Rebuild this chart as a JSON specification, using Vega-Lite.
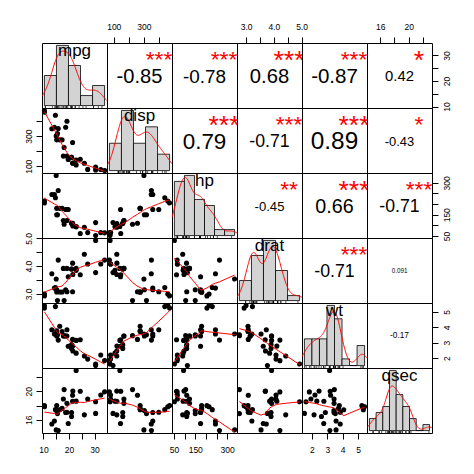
{
  "$schema": "https://vega.github.io/schema/vega-lite/v6.json",
  "description": "Correlation chart of mtcars: mpg, disp, hp, drat, wt, qsec.",
  "padding": {"left": 23, "top": 21, "right": 5, "bottom": 5},
  "columns": 6,
  "spacing": 0,
  "bounds": "flush",
  "datasets": {
    "cars": [
      {"mpg": 21.0, "disp": 160, "hp": 110, "drat": 3.90, "wt": 2.620, "qsec": 16.46},
      {"mpg": 21.0, "disp": 160, "hp": 110, "drat": 3.90, "wt": 2.875, "qsec": 17.02},
      {"mpg": 22.8, "disp": 108, "hp": 93, "drat": 3.85, "wt": 2.320, "qsec": 18.61},
      {"mpg": 21.4, "disp": 258, "hp": 110, "drat": 3.08, "wt": 3.215, "qsec": 19.44},
      {"mpg": 18.7, "disp": 360, "hp": 175, "drat": 3.15, "wt": 3.440, "qsec": 17.02},
      {"mpg": 18.1, "disp": 225, "hp": 105, "drat": 2.76, "wt": 3.460, "qsec": 20.22},
      {"mpg": 14.3, "disp": 360, "hp": 245, "drat": 3.21, "wt": 3.570, "qsec": 15.84},
      {"mpg": 24.4, "disp": 146.7, "hp": 62, "drat": 3.69, "wt": 3.190, "qsec": 20.00},
      {"mpg": 22.8, "disp": 140.8, "hp": 95, "drat": 3.92, "wt": 3.150, "qsec": 22.90},
      {"mpg": 19.2, "disp": 167.6, "hp": 123, "drat": 3.92, "wt": 3.440, "qsec": 18.30},
      {"mpg": 17.8, "disp": 167.6, "hp": 123, "drat": 3.92, "wt": 3.440, "qsec": 18.90},
      {"mpg": 16.4, "disp": 275.8, "hp": 180, "drat": 3.07, "wt": 4.070, "qsec": 17.40},
      {"mpg": 17.3, "disp": 275.8, "hp": 180, "drat": 3.07, "wt": 3.730, "qsec": 17.60},
      {"mpg": 15.2, "disp": 275.8, "hp": 180, "drat": 3.07, "wt": 3.780, "qsec": 18.00},
      {"mpg": 10.4, "disp": 472, "hp": 205, "drat": 2.93, "wt": 5.250, "qsec": 17.98},
      {"mpg": 10.4, "disp": 460, "hp": 215, "drat": 3.00, "wt": 5.424, "qsec": 17.82},
      {"mpg": 14.7, "disp": 440, "hp": 230, "drat": 3.23, "wt": 5.345, "qsec": 17.42},
      {"mpg": 32.4, "disp": 78.7, "hp": 66, "drat": 4.08, "wt": 2.200, "qsec": 19.47},
      {"mpg": 30.4, "disp": 75.7, "hp": 52, "drat": 4.93, "wt": 1.615, "qsec": 18.52},
      {"mpg": 33.9, "disp": 71.1, "hp": 65, "drat": 4.22, "wt": 1.835, "qsec": 19.90},
      {"mpg": 21.5, "disp": 120.1, "hp": 97, "drat": 3.70, "wt": 2.465, "qsec": 20.01},
      {"mpg": 15.5, "disp": 318, "hp": 150, "drat": 2.76, "wt": 3.520, "qsec": 16.87},
      {"mpg": 15.2, "disp": 304, "hp": 150, "drat": 3.15, "wt": 3.435, "qsec": 17.30},
      {"mpg": 13.3, "disp": 350, "hp": 245, "drat": 3.73, "wt": 3.840, "qsec": 15.41},
      {"mpg": 19.2, "disp": 400, "hp": 175, "drat": 3.08, "wt": 3.845, "qsec": 17.05},
      {"mpg": 27.3, "disp": 79, "hp": 66, "drat": 4.08, "wt": 1.935, "qsec": 18.90},
      {"mpg": 26.0, "disp": 120.3, "hp": 91, "drat": 4.43, "wt": 2.140, "qsec": 16.70},
      {"mpg": 30.4, "disp": 95.1, "hp": 113, "drat": 3.77, "wt": 1.513, "qsec": 16.90},
      {"mpg": 15.8, "disp": 351, "hp": 264, "drat": 4.22, "wt": 3.170, "qsec": 14.50},
      {"mpg": 19.7, "disp": 145, "hp": 175, "drat": 3.62, "wt": 2.770, "qsec": 15.50},
      {"mpg": 15.0, "disp": 301, "hp": 335, "drat": 3.54, "wt": 3.570, "qsec": 14.60},
      {"mpg": 21.4, "disp": 121, "hp": 109, "drat": 4.11, "wt": 2.780, "qsec": 18.60}
    ],
    "cor": [
      {"pair": "mpg-disp", "r": "-0.85", "stars": "***"},
      {"pair": "mpg-hp", "r": "-0.78", "stars": "***"},
      {"pair": "mpg-drat", "r": "0.68", "stars": "***"},
      {"pair": "mpg-wt", "r": "-0.87", "stars": "***"},
      {"pair": "mpg-qsec", "r": "0.42", "stars": "*"},
      {"pair": "disp-hp", "r": "0.79", "stars": "***"},
      {"pair": "disp-drat", "r": "-0.71", "stars": "***"},
      {"pair": "disp-wt", "r": "0.89", "stars": "***"},
      {"pair": "disp-qsec", "r": "-0.43", "stars": "*"},
      {"pair": "hp-drat", "r": "-0.45", "stars": "**"},
      {"pair": "hp-wt", "r": "0.66", "stars": "***"},
      {"pair": "hp-qsec", "r": "-0.71", "stars": "***"},
      {"pair": "drat-wt", "r": "-0.71", "stars": "***"},
      {"pair": "drat-qsec", "r": "0.091", "stars": ""},
      {"pair": "wt-qsec", "r": "-0.17", "stars": ""}
    ],
    "hist": [
      {"v": "mpg", "lo": 10, "hi": 15, "d": 0.0375},
      {"v": "mpg", "lo": 15, "hi": 20, "d": 0.075},
      {"v": "mpg", "lo": 20, "hi": 25, "d": 0.05},
      {"v": "mpg", "lo": 25, "hi": 30, "d": 0.0125},
      {"v": "mpg", "lo": 30, "hi": 35, "d": 0.025},
      {"v": "disp", "lo": 0, "hi": 100, "d": 0.0015625},
      {"v": "disp", "lo": 100, "hi": 200, "d": 0.0034375},
      {"v": "disp", "lo": 200, "hi": 300, "d": 0.0015625},
      {"v": "disp", "lo": 300, "hi": 400, "d": 0.0025},
      {"v": "disp", "lo": 400, "hi": 500, "d": 0.0009375},
      {"v": "hp", "lo": 50, "hi": 100, "d": 0.005625},
      {"v": "hp", "lo": 100, "hi": 150, "d": 0.00625},
      {"v": "hp", "lo": 150, "hi": 200, "d": 0.00375},
      {"v": "hp", "lo": 200, "hi": 250, "d": 0.003125},
      {"v": "hp", "lo": 250, "hi": 300, "d": 0.000625},
      {"v": "hp", "lo": 300, "hi": 350, "d": 0.000625},
      {"v": "drat", "lo": 2.5, "hi": 3.0, "d": 0.25},
      {"v": "drat", "lo": 3.0, "hi": 3.5, "d": 0.5625},
      {"v": "drat", "lo": 3.5, "hi": 4.0, "d": 0.75},
      {"v": "drat", "lo": 4.0, "hi": 4.5, "d": 0.375},
      {"v": "drat", "lo": 4.5, "hi": 5.0, "d": 0.0625},
      {"v": "wt", "lo": 1.5, "hi": 2.0, "d": 0.25},
      {"v": "wt", "lo": 2.0, "hi": 2.5, "d": 0.25},
      {"v": "wt", "lo": 2.5, "hi": 3.0, "d": 0.25},
      {"v": "wt", "lo": 3.0, "hi": 3.5, "d": 0.5625},
      {"v": "wt", "lo": 3.5, "hi": 4.0, "d": 0.4375},
      {"v": "wt", "lo": 4.0, "hi": 4.5, "d": 0.0625},
      {"v": "wt", "lo": 4.5, "hi": 5.0, "d": 0},
      {"v": "wt", "lo": 5.0, "hi": 5.5, "d": 0.1875},
      {"v": "qsec", "lo": 14, "hi": 15, "d": 0.0625},
      {"v": "qsec", "lo": 15, "hi": 16, "d": 0.09375},
      {"v": "qsec", "lo": 16, "hi": 17, "d": 0.125},
      {"v": "qsec", "lo": 17, "hi": 18, "d": 0.3125},
      {"v": "qsec", "lo": 18, "hi": 19, "d": 0.1875},
      {"v": "qsec", "lo": 19, "hi": 20, "d": 0.125},
      {"v": "qsec", "lo": 20, "hi": 21, "d": 0.0625},
      {"v": "qsec", "lo": 21, "hi": 22, "d": 0},
      {"v": "qsec", "lo": 22, "hi": 23, "d": 0.03125}
    ]
  },
  "concat": [
    {
      "width": 65, "height": 65,
      "layer": [
        {"data": {"name": "hist"}, "transform": [{"filter": "datum.v == 'mpg'"}],
         "mark": {"type": "rect", "fill": "#D3D3D3", "stroke": "black", "strokeWidth": 0.8, "clip": true},
         "encoding": {"x": {"field": "lo", "type": "quantitative", "scale": {"domain": [9, 36], "nice": false, "zero": false}, "axis": null},
                      "x2": {"field": "hi"},
                      "y": {"field": "d", "type": "quantitative", "scale": {"domain": [-0.003, 0.078], "nice": false, "zero": false}, "axis": null},
                      "y2": {"datum": 0}}},
        {"data": {"name": "cars"}, "transform": [{"density": "mpg", "bandwidth": 2.477, "extent": [9, 36], "steps": 200}],
         "mark": {"type": "line", "color": "red", "strokeWidth": 1, "clip": true},
         "encoding": {"x": {"field": "value", "type": "quantitative", "axis": null}, "y": {"field": "density", "type": "quantitative", "axis": null}}},
        {"data": {"name": "cars"},
         "mark": {"type": "rule", "color": "black", "strokeWidth": 0.7},
         "encoding": {"x": {"field": "mpg", "type": "quantitative", "axis": null}, "y": {"datum": -0.003, "axis": null}, "y2": {"datum": -0.00057}}},
        {"data": {"values": [{"label": "mpg"}]},
         "mark": {"type": "text", "font": "Liberation Sans", "fontSize": 17, "color": "black", "baseline": "alphabetic", "dy": -19.5},
         "encoding": {"text": {"field": "label", "type": "nominal"}}}
      ]
    },
    {
      "width": 65, "height": 65,
      "layer": [
        {"data": {"name": "cars"}, "mark": {"type": "point", "opacity": 0},
         "encoding": {"x": {"field": "disp", "type": "quantitative", "scale": {"domain": [55.064, 488.036], "nice": false, "zero": false},
                            "axis": {"orient": "top", "values": [100, 200, 300, 400], "labelExpr": "datum.value == 100 || datum.value == 300 ? datum.label : ''", "title": null, "labelPadding": 6}},
                      "y": {"field": "mpg", "type": "quantitative", "scale": {"domain": [9.46, 34.84], "nice": false, "zero": false}, "axis": null}}},
        {"data": {"name": "cor"}, "transform": [{"filter": "datum.pair == 'mpg-disp'"}],
         "mark": {"type": "text", "font": "Liberation Sans", "fontSize": 20.1, "color": "black", "baseline": "middle", "dy": 1, "clip": true},
         "encoding": {"text": {"field": "r", "type": "nominal"}}},
        {"data": {"name": "cor"}, "transform": [{"filter": "datum.pair == 'mpg-disp'"}],
         "mark": {"type": "text", "font": "Liberation Sans", "fontSize": 22.8, "color": "red", "baseline": "middle", "dx": 19.5, "dy": -16, "clip": true},
         "encoding": {"text": {"field": "stars", "type": "nominal"}}}
      ]
    },
    {
      "width": 65, "height": 65,
      "layer": [
        {"data": {"name": "cars"}, "mark": {"type": "point", "opacity": 0},
         "encoding": {"x": {"field": "hp", "type": "quantitative", "axis": null}, "y": {"field": "mpg", "type": "quantitative", "axis": null}}},
        {"data": {"name": "cor"}, "transform": [{"filter": "datum.pair == 'mpg-hp'"}],
         "mark": {"type": "text", "font": "Liberation Sans", "fontSize": 18.9, "color": "black", "baseline": "middle", "dy": 1, "clip": true},
         "encoding": {"text": {"field": "r", "type": "nominal"}}},
        {"data": {"name": "cor"}, "transform": [{"filter": "datum.pair == 'mpg-hp'"}],
         "mark": {"type": "text", "font": "Liberation Sans", "fontSize": 22.8, "color": "red", "baseline": "middle", "dx": 19.5, "dy": -16, "clip": true},
         "encoding": {"text": {"field": "stars", "type": "nominal"}}}
      ]
    },
    {
      "width": 65, "height": 65,
      "layer": [
        {"data": {"name": "cars"}, "mark": {"type": "point", "opacity": 0},
         "encoding": {"x": {"field": "drat", "type": "quantitative", "scale": {"domain": [2.6732, 5.0168], "nice": false, "zero": false},
                            "axis": {"orient": "top", "values": [3, 3.5, 4, 4.5, 5], "format": ".1f", "labelExpr": "datum.value % 1 == 0 ? datum.label : ''", "title": null, "labelPadding": 6}},
                      "y": {"field": "mpg", "type": "quantitative", "scale": {"domain": [9.46, 34.84], "nice": false, "zero": false}, "axis": null}}},
        {"data": {"name": "cor"}, "transform": [{"filter": "datum.pair == 'mpg-drat'"}],
         "mark": {"type": "text", "font": "Liberation Sans", "fontSize": 20.2, "color": "black", "baseline": "middle", "dy": 1, "clip": true},
         "encoding": {"text": {"field": "r", "type": "nominal"}}},
        {"data": {"name": "cor"}, "transform": [{"filter": "datum.pair == 'mpg-drat'"}],
         "mark": {"type": "text", "font": "Liberation Sans", "fontSize": 26.7, "color": "red", "baseline": "middle", "dx": 19.5, "dy": -15, "clip": true},
         "encoding": {"text": {"field": "stars", "type": "nominal"}}}
      ]
    },
    {
      "width": 65, "height": 65,
      "layer": [
        {"data": {"name": "cars"}, "mark": {"type": "point", "opacity": 0},
         "encoding": {"x": {"field": "wt", "type": "quantitative", "axis": null}, "y": {"field": "mpg", "type": "quantitative", "axis": null}}},
        {"data": {"name": "cor"}, "transform": [{"filter": "datum.pair == 'mpg-wt'"}],
         "mark": {"type": "text", "font": "Liberation Sans", "fontSize": 20.5, "color": "black", "baseline": "middle", "dy": 1, "clip": true},
         "encoding": {"text": {"field": "r", "type": "nominal"}}},
        {"data": {"name": "cor"}, "transform": [{"filter": "datum.pair == 'mpg-wt'"}],
         "mark": {"type": "text", "font": "Liberation Sans", "fontSize": 22.8, "color": "red", "baseline": "middle", "dx": 19.5, "dy": -16, "clip": true},
         "encoding": {"text": {"field": "stars", "type": "nominal"}}}
      ]
    },
    {
      "width": 65, "height": 65,
      "layer": [
        {"data": {"name": "cars"}, "mark": {"type": "point", "opacity": 0},
         "encoding": {"x": {"field": "qsec", "type": "quantitative", "scale": {"domain": [14.164, 23.236], "nice": false, "zero": false},
                            "axis": {"orient": "top", "values": [16, 18, 20, 22], "labelExpr": "datum.value == 16 || datum.value == 20 ? datum.label : ''", "title": null, "labelPadding": 6}},
                      "y": {"field": "mpg", "type": "quantitative", "scale": {"domain": [9.46, 34.84], "nice": false, "zero": false},
                            "axis": {"orient": "right", "values": [10, 15, 20, 25, 30], "labelExpr": "datum.value % 10 == 0 ? datum.label : ''", "title": null, "labelAngle": 270, "labelAlign": "center", "labelBaseline": "top", "labelPadding": 4}}}},
        {"data": {"name": "cor"}, "transform": [{"filter": "datum.pair == 'mpg-qsec'"}],
         "mark": {"type": "text", "font": "Liberation Sans", "fontSize": 14.8, "color": "black", "baseline": "middle", "dy": 1, "clip": true},
         "encoding": {"text": {"field": "r", "type": "nominal"}}},
        {"data": {"name": "cor"}, "transform": [{"filter": "datum.pair == 'mpg-qsec'"}],
         "mark": {"type": "text", "font": "Liberation Sans", "fontSize": 26.7, "color": "red", "baseline": "middle", "dx": 19.5, "dy": -15, "clip": true},
         "encoding": {"text": {"field": "stars", "type": "nominal"}}}
      ]
    },
    {
      "width": 65, "height": 65, "data": {"name": "cars"},
      "encoding": {"x": {"field": "mpg", "type": "quantitative", "scale": {"domain": [9.46, 34.84], "nice": false, "zero": false}, "axis": null},
                   "y": {"field": "disp", "type": "quantitative", "scale": {"domain": [55.064, 488.036], "nice": false, "zero": false},
                         "axis": {"orient": "left", "values": [100, 200, 300, 400], "labelExpr": "datum.value == 100 || datum.value == 300 ? datum.label : ''", "title": null, "labelAngle": 270, "labelAlign": "center", "labelBaseline": "bottom", "labelPadding": 3}}},
      "layer": [
        {"mark": {"type": "point", "filled": true, "color": "black", "opacity": 1, "size": 26, "clip": true}},
        {"transform": [{"loess": "disp", "on": "mpg", "bandwidth": 0.667}], "mark": {"type": "line", "color": "red", "strokeWidth": 1, "clip": true}}
      ]
    },
    {
      "width": 65, "height": 65,
      "layer": [
        {"data": {"name": "hist"}, "transform": [{"filter": "datum.v == 'disp'"}],
         "mark": {"type": "rect", "fill": "#D3D3D3", "stroke": "black", "strokeWidth": 0.8, "clip": true},
         "encoding": {"x": {"field": "lo", "type": "quantitative", "scale": {"domain": [-20, 520], "nice": false, "zero": false}, "axis": null},
                      "x2": {"field": "hi"},
                      "y": {"field": "d", "type": "quantitative", "scale": {"domain": [-0.0001375, 0.003575], "nice": false, "zero": false}, "axis": null},
                      "y2": {"datum": 0}}},
        {"data": {"name": "cars"}, "transform": [{"density": "disp", "bandwidth": 55.77, "extent": [-20, 520], "steps": 200}],
         "mark": {"type": "line", "color": "red", "strokeWidth": 1, "clip": true},
         "encoding": {"x": {"field": "value", "type": "quantitative", "axis": null}, "y": {"field": "density", "type": "quantitative", "axis": null}}},
        {"data": {"name": "cars"},
         "mark": {"type": "rule", "color": "black", "strokeWidth": 0.7},
         "encoding": {"x": {"field": "disp", "type": "quantitative", "axis": null}, "y": {"datum": -0.0001375, "axis": null}, "y2": {"datum": -0.000026}}},
        {"data": {"values": [{"label": "disp"}]},
         "mark": {"type": "text", "font": "Liberation Sans", "fontSize": 17, "color": "black", "baseline": "alphabetic", "dy": -19.5},
         "encoding": {"text": {"field": "label", "type": "nominal"}}}
      ]
    },
    {
      "width": 65, "height": 65,
      "layer": [
        {"data": {"name": "cars"}, "mark": {"type": "point", "opacity": 0},
         "encoding": {"x": {"field": "hp", "type": "quantitative", "axis": null}, "y": {"field": "disp", "type": "quantitative", "axis": null}}},
        {"data": {"name": "cor"}, "transform": [{"filter": "datum.pair == 'disp-hp'"}],
         "mark": {"type": "text", "font": "Liberation Sans", "fontSize": 22.4, "color": "black", "baseline": "middle", "dy": 1, "clip": true},
         "encoding": {"text": {"field": "r", "type": "nominal"}}},
        {"data": {"name": "cor"}, "transform": [{"filter": "datum.pair == 'disp-hp'"}],
         "mark": {"type": "text", "font": "Liberation Sans", "fontSize": 26.7, "color": "red", "baseline": "middle", "dx": 19.5, "dy": -15, "clip": true},
         "encoding": {"text": {"field": "stars", "type": "nominal"}}}
      ]
    },
    {
      "width": 65, "height": 65,
      "layer": [
        {"data": {"name": "cars"}, "mark": {"type": "point", "opacity": 0},
         "encoding": {"x": {"field": "drat", "type": "quantitative", "axis": null}, "y": {"field": "disp", "type": "quantitative", "axis": null}}},
        {"data": {"name": "cor"}, "transform": [{"filter": "datum.pair == 'disp-drat'"}],
         "mark": {"type": "text", "font": "Liberation Sans", "fontSize": 17.7, "color": "black", "baseline": "middle", "dy": 1, "clip": true},
         "encoding": {"text": {"field": "r", "type": "nominal"}}},
        {"data": {"name": "cor"}, "transform": [{"filter": "datum.pair == 'disp-drat'"}],
         "mark": {"type": "text", "font": "Liberation Sans", "fontSize": 22.8, "color": "red", "baseline": "middle", "dx": 19.5, "dy": -16, "clip": true},
         "encoding": {"text": {"field": "stars", "type": "nominal"}}}
      ]
    },
    {
      "width": 65, "height": 65,
      "layer": [
        {"data": {"name": "cars"}, "mark": {"type": "point", "opacity": 0},
         "encoding": {"x": {"field": "wt", "type": "quantitative", "axis": null}, "y": {"field": "disp", "type": "quantitative", "axis": null}}},
        {"data": {"name": "cor"}, "transform": [{"filter": "datum.pair == 'disp-wt'"}],
         "mark": {"type": "text", "font": "Liberation Sans", "fontSize": 24.4, "color": "black", "baseline": "middle", "dy": 1, "clip": true},
         "encoding": {"text": {"field": "r", "type": "nominal"}}},
        {"data": {"name": "cor"}, "transform": [{"filter": "datum.pair == 'disp-wt'"}],
         "mark": {"type": "text", "font": "Liberation Sans", "fontSize": 26.7, "color": "red", "baseline": "middle", "dx": 19.5, "dy": -15, "clip": true},
         "encoding": {"text": {"field": "stars", "type": "nominal"}}}
      ]
    },
    {
      "width": 65, "height": 65,
      "layer": [
        {"data": {"name": "cars"}, "mark": {"type": "point", "opacity": 0},
         "encoding": {"x": {"field": "qsec", "type": "quantitative", "axis": null}, "y": {"field": "disp", "type": "quantitative", "axis": null}}},
        {"data": {"name": "cor"}, "transform": [{"filter": "datum.pair == 'disp-qsec'"}],
         "mark": {"type": "text", "font": "Liberation Sans", "fontSize": 12.9, "color": "black", "baseline": "middle", "dy": 1, "clip": true},
         "encoding": {"text": {"field": "r", "type": "nominal"}}},
        {"data": {"name": "cor"}, "transform": [{"filter": "datum.pair == 'disp-qsec'"}],
         "mark": {"type": "text", "font": "Liberation Sans", "fontSize": 22.8, "color": "red", "baseline": "middle", "dx": 19.5, "dy": -16, "clip": true},
         "encoding": {"text": {"field": "stars", "type": "nominal"}}}
      ]
    },
    {
      "width": 65, "height": 65, "data": {"name": "cars"},
      "encoding": {"x": {"field": "mpg", "type": "quantitative", "scale": {"domain": [9.46, 34.84], "nice": false, "zero": false}, "axis": null},
                   "y": {"field": "hp", "type": "quantitative", "scale": {"domain": [40.68, 346.32], "nice": false, "zero": false}, "axis": null}},
      "layer": [
        {"mark": {"type": "point", "filled": true, "color": "black", "opacity": 1, "size": 26, "clip": true}},
        {"transform": [{"loess": "hp", "on": "mpg", "bandwidth": 0.667}], "mark": {"type": "line", "color": "red", "strokeWidth": 1, "clip": true}}
      ]
    },
    {
      "width": 65, "height": 65, "data": {"name": "cars"},
      "encoding": {"x": {"field": "disp", "type": "quantitative", "scale": {"domain": [55.064, 488.036], "nice": false, "zero": false}, "axis": null},
                   "y": {"field": "hp", "type": "quantitative", "scale": {"domain": [40.68, 346.32], "nice": false, "zero": false}, "axis": null}},
      "layer": [
        {"mark": {"type": "point", "filled": true, "color": "black", "opacity": 1, "size": 26, "clip": true}},
        {"transform": [{"loess": "hp", "on": "disp", "bandwidth": 0.667}], "mark": {"type": "line", "color": "red", "strokeWidth": 1, "clip": true}}
      ]
    },
    {
      "width": 65, "height": 65,
      "layer": [
        {"data": {"name": "hist"}, "transform": [{"filter": "datum.v == 'hp'"}],
         "mark": {"type": "rect", "fill": "#D3D3D3", "stroke": "black", "strokeWidth": 0.8, "clip": true},
         "encoding": {"x": {"field": "lo", "type": "quantitative", "scale": {"domain": [38, 362], "nice": false, "zero": false}, "axis": null},
                      "x2": {"field": "hi"},
                      "y": {"field": "d", "type": "quantitative", "scale": {"domain": [-0.00025, 0.0065], "nice": false, "zero": false}, "axis": null},
                      "y2": {"datum": 0}}},
        {"data": {"name": "cars"}, "transform": [{"density": "hp", "bandwidth": 28.04, "extent": [38, 362], "steps": 200}],
         "mark": {"type": "line", "color": "red", "strokeWidth": 1, "clip": true},
         "encoding": {"x": {"field": "value", "type": "quantitative", "axis": null}, "y": {"field": "density", "type": "quantitative", "axis": null}}},
        {"data": {"name": "cars"},
         "mark": {"type": "rule", "color": "black", "strokeWidth": 0.7},
         "encoding": {"x": {"field": "hp", "type": "quantitative", "axis": null}, "y": {"datum": -0.00025, "axis": null}, "y2": {"datum": -0.0000475}}},
        {"data": {"values": [{"label": "hp"}]},
         "mark": {"type": "text", "font": "Liberation Sans", "fontSize": 17, "color": "black", "baseline": "alphabetic", "dy": -19.5},
         "encoding": {"text": {"field": "label", "type": "nominal"}}}
      ]
    },
    {
      "width": 65, "height": 65,
      "layer": [
        {"data": {"name": "cars"}, "mark": {"type": "point", "opacity": 0},
         "encoding": {"x": {"field": "drat", "type": "quantitative", "axis": null}, "y": {"field": "hp", "type": "quantitative", "axis": null}}},
        {"data": {"name": "cor"}, "transform": [{"filter": "datum.pair == 'hp-drat'"}],
         "mark": {"type": "text", "font": "Liberation Sans", "fontSize": 13.1, "color": "black", "baseline": "middle", "dy": 1, "clip": true},
         "encoding": {"text": {"field": "r", "type": "nominal"}}},
        {"data": {"name": "cor"}, "transform": [{"filter": "datum.pair == 'hp-drat'"}],
         "mark": {"type": "text", "font": "Liberation Sans", "fontSize": 22.8, "color": "red", "baseline": "middle", "dx": 19.5, "dy": -16, "clip": true},
         "encoding": {"text": {"field": "stars", "type": "nominal"}}}
      ]
    },
    {
      "width": 65, "height": 65,
      "layer": [
        {"data": {"name": "cars"}, "mark": {"type": "point", "opacity": 0},
         "encoding": {"x": {"field": "wt", "type": "quantitative", "axis": null}, "y": {"field": "hp", "type": "quantitative", "axis": null}}},
        {"data": {"name": "cor"}, "transform": [{"filter": "datum.pair == 'hp-wt'"}],
         "mark": {"type": "text", "font": "Liberation Sans", "fontSize": 19.7, "color": "black", "baseline": "middle", "dy": 1, "clip": true},
         "encoding": {"text": {"field": "r", "type": "nominal"}}},
        {"data": {"name": "cor"}, "transform": [{"filter": "datum.pair == 'hp-wt'"}],
         "mark": {"type": "text", "font": "Liberation Sans", "fontSize": 26.7, "color": "red", "baseline": "middle", "dx": 19.5, "dy": -15, "clip": true},
         "encoding": {"text": {"field": "stars", "type": "nominal"}}}
      ]
    },
    {
      "width": 65, "height": 65,
      "layer": [
        {"data": {"name": "cars"}, "mark": {"type": "point", "opacity": 0},
         "encoding": {"x": {"field": "qsec", "type": "quantitative", "scale": {"domain": [14.164, 23.236], "nice": false, "zero": false}, "axis": null},
                      "y": {"field": "hp", "type": "quantitative", "scale": {"domain": [40.68, 346.32], "nice": false, "zero": false},
                            "axis": {"orient": "right", "values": [50, 100, 150, 200, 250, 300], "labelExpr": "datum.value == 50 || datum.value == 150 || datum.value == 300 ? datum.label : ''", "title": null, "labelAngle": 270, "labelAlign": "center", "labelBaseline": "top", "labelPadding": 4}}}},
        {"data": {"name": "cor"}, "transform": [{"filter": "datum.pair == 'hp-qsec'"}],
         "mark": {"type": "text", "font": "Liberation Sans", "fontSize": 17.7, "color": "black", "baseline": "middle", "dy": 1, "clip": true},
         "encoding": {"text": {"field": "r", "type": "nominal"}}},
        {"data": {"name": "cor"}, "transform": [{"filter": "datum.pair == 'hp-qsec'"}],
         "mark": {"type": "text", "font": "Liberation Sans", "fontSize": 22.8, "color": "red", "baseline": "middle", "dx": 19.5, "dy": -16, "clip": true},
         "encoding": {"text": {"field": "stars", "type": "nominal"}}}
      ]
    },
    {
      "width": 65, "height": 65, "data": {"name": "cars"},
      "encoding": {"x": {"field": "mpg", "type": "quantitative", "scale": {"domain": [9.46, 34.84], "nice": false, "zero": false}, "axis": null},
                   "y": {"field": "drat", "type": "quantitative", "scale": {"domain": [2.6732, 5.0168], "nice": false, "zero": false},
                         "axis": {"orient": "left", "values": [3, 3.5, 4, 4.5, 5], "format": ".1f", "labelExpr": "datum.value % 1 == 0 ? datum.label : ''", "title": null, "labelAngle": 270, "labelAlign": "center", "labelBaseline": "bottom", "labelPadding": 3}}},
      "layer": [
        {"mark": {"type": "point", "filled": true, "color": "black", "opacity": 1, "size": 26, "clip": true}},
        {"transform": [{"loess": "drat", "on": "mpg", "bandwidth": 0.667}], "mark": {"type": "line", "color": "red", "strokeWidth": 1, "clip": true}}
      ]
    },
    {
      "width": 65, "height": 65, "data": {"name": "cars"},
      "encoding": {"x": {"field": "disp", "type": "quantitative", "scale": {"domain": [55.064, 488.036], "nice": false, "zero": false}, "axis": null},
                   "y": {"field": "drat", "type": "quantitative", "scale": {"domain": [2.6732, 5.0168], "nice": false, "zero": false}, "axis": null}},
      "layer": [
        {"mark": {"type": "point", "filled": true, "color": "black", "opacity": 1, "size": 26, "clip": true}},
        {"transform": [{"loess": "drat", "on": "disp", "bandwidth": 0.667}], "mark": {"type": "line", "color": "red", "strokeWidth": 1, "clip": true}}
      ]
    },
    {
      "width": 65, "height": 65, "data": {"name": "cars"},
      "encoding": {"x": {"field": "hp", "type": "quantitative", "scale": {"domain": [40.68, 346.32], "nice": false, "zero": false}, "axis": null},
                   "y": {"field": "drat", "type": "quantitative", "scale": {"domain": [2.6732, 5.0168], "nice": false, "zero": false}, "axis": null}},
      "layer": [
        {"mark": {"type": "point", "filled": true, "color": "black", "opacity": 1, "size": 26, "clip": true}},
        {"transform": [{"loess": "drat", "on": "hp", "bandwidth": 0.667}], "mark": {"type": "line", "color": "red", "strokeWidth": 1, "clip": true}}
      ]
    },
    {
      "width": 65, "height": 65,
      "layer": [
        {"data": {"name": "hist"}, "transform": [{"filter": "datum.v == 'drat'"}],
         "mark": {"type": "rect", "fill": "#D3D3D3", "stroke": "black", "strokeWidth": 0.8, "clip": true},
         "encoding": {"x": {"field": "lo", "type": "quantitative", "scale": {"domain": [2.4, 5.1], "nice": false, "zero": false}, "axis": null},
                      "x2": {"field": "hi"},
                      "y": {"field": "d", "type": "quantitative", "scale": {"domain": [-0.03, 0.78], "nice": false, "zero": false}, "axis": null},
                      "y2": {"datum": 0}}},
        {"data": {"name": "cars"}, "transform": [{"density": "drat", "bandwidth": 0.2406, "extent": [2.4, 5.1], "steps": 200}],
         "mark": {"type": "line", "color": "red", "strokeWidth": 1, "clip": true},
         "encoding": {"x": {"field": "value", "type": "quantitative", "axis": null}, "y": {"field": "density", "type": "quantitative", "axis": null}}},
        {"data": {"name": "cars"},
         "mark": {"type": "rule", "color": "black", "strokeWidth": 0.7},
         "encoding": {"x": {"field": "drat", "type": "quantitative", "axis": null}, "y": {"datum": -0.03, "axis": null}, "y2": {"datum": -0.0057}}},
        {"data": {"values": [{"label": "drat"}]},
         "mark": {"type": "text", "font": "Liberation Sans", "fontSize": 17, "color": "black", "baseline": "alphabetic", "dy": -19.5},
         "encoding": {"text": {"field": "label", "type": "nominal"}}}
      ]
    },
    {
      "width": 65, "height": 65,
      "layer": [
        {"data": {"name": "cars"}, "mark": {"type": "point", "opacity": 0},
         "encoding": {"x": {"field": "wt", "type": "quantitative", "axis": null}, "y": {"field": "drat", "type": "quantitative", "axis": null}}},
        {"data": {"name": "cor"}, "transform": [{"filter": "datum.pair == 'drat-wt'"}],
         "mark": {"type": "text", "font": "Liberation Sans", "fontSize": 17.8, "color": "black", "baseline": "middle", "dy": 1, "clip": true},
         "encoding": {"text": {"field": "r", "type": "nominal"}}},
        {"data": {"name": "cor"}, "transform": [{"filter": "datum.pair == 'drat-wt'"}],
         "mark": {"type": "text", "font": "Liberation Sans", "fontSize": 22.8, "color": "red", "baseline": "middle", "dx": 19.5, "dy": -16, "clip": true},
         "encoding": {"text": {"field": "stars", "type": "nominal"}}}
      ]
    },
    {
      "width": 65, "height": 65,
      "layer": [
        {"data": {"name": "cars"}, "mark": {"type": "point", "opacity": 0},
         "encoding": {"x": {"field": "qsec", "type": "quantitative", "axis": null}, "y": {"field": "drat", "type": "quantitative", "axis": null}}},
        {"data": {"name": "cor"}, "transform": [{"filter": "datum.pair == 'drat-qsec'"}],
         "mark": {"type": "text", "font": "Liberation Sans", "fontSize": 6.3, "color": "black", "baseline": "middle", "dy": 0.5, "clip": true},
         "encoding": {"text": {"field": "r", "type": "nominal"}}}
      ]
    },
    {
      "width": 65, "height": 65, "data": {"name": "cars"},
      "encoding": {"x": {"field": "mpg", "type": "quantitative", "scale": {"domain": [9.46, 34.84], "nice": false, "zero": false}, "axis": null},
                   "y": {"field": "wt", "type": "quantitative", "scale": {"domain": [1.35656, 5.58044], "nice": false, "zero": false}, "axis": null}},
      "layer": [
        {"mark": {"type": "point", "filled": true, "color": "black", "opacity": 1, "size": 26, "clip": true}},
        {"transform": [{"loess": "wt", "on": "mpg", "bandwidth": 0.667}], "mark": {"type": "line", "color": "red", "strokeWidth": 1, "clip": true}}
      ]
    },
    {
      "width": 65, "height": 65, "data": {"name": "cars"},
      "encoding": {"x": {"field": "disp", "type": "quantitative", "scale": {"domain": [55.064, 488.036], "nice": false, "zero": false}, "axis": null},
                   "y": {"field": "wt", "type": "quantitative", "scale": {"domain": [1.35656, 5.58044], "nice": false, "zero": false}, "axis": null}},
      "layer": [
        {"mark": {"type": "point", "filled": true, "color": "black", "opacity": 1, "size": 26, "clip": true}},
        {"transform": [{"loess": "wt", "on": "disp", "bandwidth": 0.667}], "mark": {"type": "line", "color": "red", "strokeWidth": 1, "clip": true}}
      ]
    },
    {
      "width": 65, "height": 65, "data": {"name": "cars"},
      "encoding": {"x": {"field": "hp", "type": "quantitative", "scale": {"domain": [40.68, 346.32], "nice": false, "zero": false}, "axis": null},
                   "y": {"field": "wt", "type": "quantitative", "scale": {"domain": [1.35656, 5.58044], "nice": false, "zero": false}, "axis": null}},
      "layer": [
        {"mark": {"type": "point", "filled": true, "color": "black", "opacity": 1, "size": 26, "clip": true}},
        {"transform": [{"loess": "wt", "on": "hp", "bandwidth": 0.667}], "mark": {"type": "line", "color": "red", "strokeWidth": 1, "clip": true}}
      ]
    },
    {
      "width": 65, "height": 65, "data": {"name": "cars"},
      "encoding": {"x": {"field": "drat", "type": "quantitative", "scale": {"domain": [2.6732, 5.0168], "nice": false, "zero": false}, "axis": null},
                   "y": {"field": "wt", "type": "quantitative", "scale": {"domain": [1.35656, 5.58044], "nice": false, "zero": false}, "axis": null}},
      "layer": [
        {"mark": {"type": "point", "filled": true, "color": "black", "opacity": 1, "size": 26, "clip": true}},
        {"transform": [{"loess": "wt", "on": "drat", "bandwidth": 0.667}], "mark": {"type": "line", "color": "red", "strokeWidth": 1, "clip": true}}
      ]
    },
    {
      "width": 65, "height": 65,
      "layer": [
        {"data": {"name": "hist"}, "transform": [{"filter": "datum.v == 'wt'"}],
         "mark": {"type": "rect", "fill": "#D3D3D3", "stroke": "black", "strokeWidth": 0.8, "clip": true},
         "encoding": {"x": {"field": "lo", "type": "quantitative", "scale": {"domain": [1.34, 5.66], "nice": false, "zero": false}, "axis": null},
                      "x2": {"field": "hi"},
                      "y": {"field": "d", "type": "quantitative", "scale": {"domain": [-0.0225, 0.585], "nice": false, "zero": false}, "axis": null},
                      "y2": {"datum": 0}}},
        {"data": {"name": "cars"}, "transform": [{"density": "wt", "bandwidth": 0.3455, "extent": [1.34, 5.66], "steps": 200}],
         "mark": {"type": "line", "color": "red", "strokeWidth": 1, "clip": true},
         "encoding": {"x": {"field": "value", "type": "quantitative", "axis": null}, "y": {"field": "density", "type": "quantitative", "axis": null}}},
        {"data": {"name": "cars"},
         "mark": {"type": "rule", "color": "black", "strokeWidth": 0.7},
         "encoding": {"x": {"field": "wt", "type": "quantitative", "axis": null}, "y": {"datum": -0.0225, "axis": null}, "y2": {"datum": -0.0043}}},
        {"data": {"values": [{"label": "wt"}]},
         "mark": {"type": "text", "font": "Liberation Sans", "fontSize": 17, "color": "black", "baseline": "alphabetic", "dy": -19.5},
         "encoding": {"text": {"field": "label", "type": "nominal"}}}
      ]
    },
    {
      "width": 65, "height": 65,
      "layer": [
        {"data": {"name": "cars"}, "mark": {"type": "point", "opacity": 0},
         "encoding": {"x": {"field": "qsec", "type": "quantitative", "scale": {"domain": [14.164, 23.236], "nice": false, "zero": false}, "axis": null},
                      "y": {"field": "wt", "type": "quantitative", "scale": {"domain": [1.35656, 5.58044], "nice": false, "zero": false},
                            "axis": {"orient": "right", "values": [2, 3, 4, 5], "title": null, "labelAngle": 270, "labelAlign": "center", "labelBaseline": "top", "labelPadding": 4}}}},
        {"data": {"name": "cor"}, "transform": [{"filter": "datum.pair == 'wt-qsec'"}],
         "mark": {"type": "text", "font": "Liberation Sans", "fontSize": 8.3, "color": "black", "baseline": "middle", "dy": 0.5, "clip": true},
         "encoding": {"text": {"field": "r", "type": "nominal"}}}
      ]
    },
    {
      "width": 65, "height": 65, "data": {"name": "cars"},
      "encoding": {"x": {"field": "mpg", "type": "quantitative", "scale": {"domain": [9.46, 34.84], "nice": false, "zero": false},
                         "axis": {"orient": "bottom", "values": [10, 15, 20, 25, 30], "labelExpr": "datum.value % 10 == 0 ? datum.label : ''", "title": null, "labelPadding": 6}},
                   "y": {"field": "qsec", "type": "quantitative", "scale": {"domain": [14.164, 23.236], "nice": false, "zero": false},
                         "axis": {"orient": "left", "values": [16, 18, 20, 22], "labelExpr": "datum.value == 16 || datum.value == 20 ? datum.label : ''", "title": null, "labelAngle": 270, "labelAlign": "center", "labelBaseline": "bottom", "labelPadding": 3}}},
      "layer": [
        {"mark": {"type": "point", "filled": true, "color": "black", "opacity": 1, "size": 26, "clip": true}},
        {"transform": [{"loess": "qsec", "on": "mpg", "bandwidth": 0.667}], "mark": {"type": "line", "color": "red", "strokeWidth": 1, "clip": true}}
      ]
    },
    {
      "width": 65, "height": 65, "data": {"name": "cars"},
      "encoding": {"x": {"field": "disp", "type": "quantitative", "scale": {"domain": [55.064, 488.036], "nice": false, "zero": false}, "axis": null},
                   "y": {"field": "qsec", "type": "quantitative", "scale": {"domain": [14.164, 23.236], "nice": false, "zero": false}, "axis": null}},
      "layer": [
        {"mark": {"type": "point", "filled": true, "color": "black", "opacity": 1, "size": 26, "clip": true}},
        {"transform": [{"loess": "qsec", "on": "disp", "bandwidth": 0.667}], "mark": {"type": "line", "color": "red", "strokeWidth": 1, "clip": true}}
      ]
    },
    {
      "width": 65, "height": 65, "data": {"name": "cars"},
      "encoding": {"x": {"field": "hp", "type": "quantitative", "scale": {"domain": [40.68, 346.32], "nice": false, "zero": false},
                         "axis": {"orient": "bottom", "values": [50, 100, 150, 200, 250, 300], "labelExpr": "datum.value == 50 || datum.value == 150 || datum.value == 300 ? datum.label : ''", "title": null, "labelPadding": 6}},
                   "y": {"field": "qsec", "type": "quantitative", "scale": {"domain": [14.164, 23.236], "nice": false, "zero": false}, "axis": null}},
      "layer": [
        {"mark": {"type": "point", "filled": true, "color": "black", "opacity": 1, "size": 26, "clip": true}},
        {"transform": [{"loess": "qsec", "on": "hp", "bandwidth": 0.667}], "mark": {"type": "line", "color": "red", "strokeWidth": 1, "clip": true}}
      ]
    },
    {
      "width": 65, "height": 65, "data": {"name": "cars"},
      "encoding": {"x": {"field": "drat", "type": "quantitative", "scale": {"domain": [2.6732, 5.0168], "nice": false, "zero": false}, "axis": null},
                   "y": {"field": "qsec", "type": "quantitative", "scale": {"domain": [14.164, 23.236], "nice": false, "zero": false}, "axis": null}},
      "layer": [
        {"mark": {"type": "point", "filled": true, "color": "black", "opacity": 1, "size": 26, "clip": true}},
        {"transform": [{"loess": "qsec", "on": "drat", "bandwidth": 0.667}], "mark": {"type": "line", "color": "red", "strokeWidth": 1, "clip": true}}
      ]
    },
    {
      "width": 65, "height": 65, "data": {"name": "cars"},
      "encoding": {"x": {"field": "wt", "type": "quantitative", "scale": {"domain": [1.35656, 5.58044], "nice": false, "zero": false},
                         "axis": {"orient": "bottom", "values": [2, 3, 4, 5], "title": null, "labelPadding": 6}},
                   "y": {"field": "qsec", "type": "quantitative", "scale": {"domain": [14.164, 23.236], "nice": false, "zero": false}, "axis": null}},
      "layer": [
        {"mark": {"type": "point", "filled": true, "color": "black", "opacity": 1, "size": 26, "clip": true}},
        {"transform": [{"loess": "qsec", "on": "wt", "bandwidth": 0.667}], "mark": {"type": "line", "color": "red", "strokeWidth": 1, "clip": true}}
      ]
    },
    {
      "width": 65, "height": 65,
      "layer": [
        {"data": {"name": "hist"}, "transform": [{"filter": "datum.v == 'qsec'"}],
         "mark": {"type": "rect", "fill": "#D3D3D3", "stroke": "black", "strokeWidth": 0.8, "clip": true},
         "encoding": {"x": {"field": "lo", "type": "quantitative", "scale": {"domain": [13.64, 23.36], "nice": false, "zero": false}, "axis": null},
                      "x2": {"field": "hi"},
                      "y": {"field": "d", "type": "quantitative", "scale": {"domain": [-0.0125, 0.325], "nice": false, "zero": false}, "axis": null},
                      "y2": {"datum": 0}}},
        {"data": {"name": "cars"}, "transform": [{"density": "qsec", "bandwidth": 0.6742, "extent": [13.64, 23.36], "steps": 200}],
         "mark": {"type": "line", "color": "red", "strokeWidth": 1, "clip": true},
         "encoding": {"x": {"field": "value", "type": "quantitative", "axis": null}, "y": {"field": "density", "type": "quantitative", "axis": null}}},
        {"data": {"name": "cars"},
         "mark": {"type": "rule", "color": "black", "strokeWidth": 0.7},
         "encoding": {"x": {"field": "qsec", "type": "quantitative", "axis": null}, "y": {"datum": -0.0125, "axis": null}, "y2": {"datum": -0.0024}}},
        {"data": {"values": [{"label": "qsec"}]},
         "mark": {"type": "text", "font": "Liberation Sans", "fontSize": 17, "color": "black", "baseline": "alphabetic", "dy": -19.5},
         "encoding": {"text": {"field": "label", "type": "nominal"}}}
      ]
    }
  ],
  "config": {
    "view": {"stroke": "black", "strokeWidth": 1},
    "font": "Liberation Sans",
    "axis": {
      "grid": false,
      "domain": false,
      "tickColor": "black",
      "tickSize": 6,
      "tickWidth": 1,
      "labelFont": "Liberation Sans",
      "labelFontSize": 8.5,
      "labelColor": "black",
      "labelOverlap": false,
      "labelFlush": false,
      "labelBound": false
    }
  }
}
